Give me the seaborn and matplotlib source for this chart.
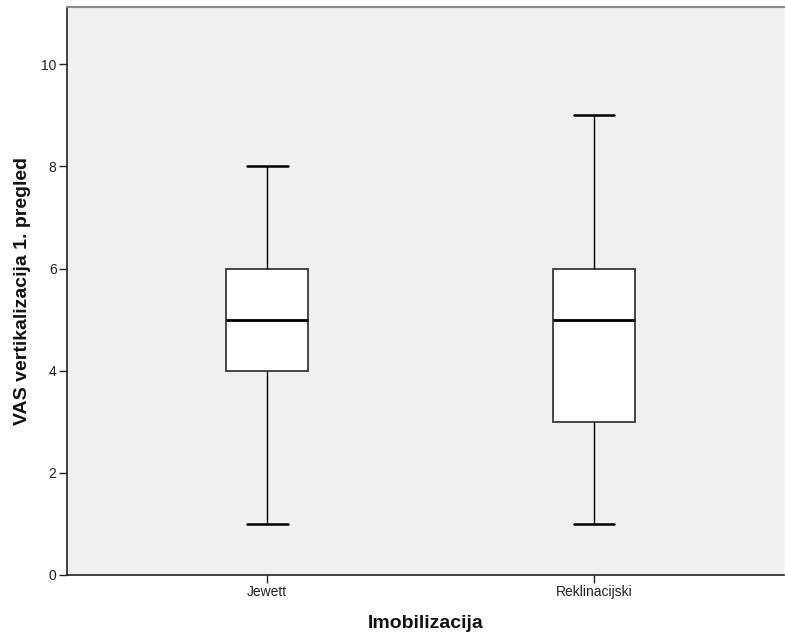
import numpy as np
import pandas as pd
import matplotlib
matplotlib.use("Agg")
import matplotlib.pyplot as plt
import seaborn as sns

# Five-number summaries (min, Q1, median, Q3, max)
categories = ["Jewett", "Reklinacijski"]
jewett_values = [1, 4, 5, 6, 8]
reklinacijski_values = [1, 3, 5, 6, 9]
y_ticks = [0, 2, 4, 6, 8, 10]

df = pd.DataFrame({
    "Imobilizacija": [categories[0]] * len(jewett_values) + [categories[1]] * len(reklinacijski_values),
    "VAS": jewett_values + reklinacijski_values,
})

sns.set_style("white")
plt.rcParams["font.family"] = ["Liberation Sans", "DejaVu Sans"]

fig = plt.figure(figsize=(7.85, 6.37), dpi=100)
ax = fig.add_axes([67 / 785, 62 / 637, 717 / 785, 568 / 637])
ax.set_facecolor("#F0F0F0")

sns.boxplot(
    data=df, x="Imobilizacija", y="VAS", order=categories, ax=ax,
    width=0.25, whis=1.5, color="white", fill=True,
    linecolor="black", linewidth=1.0,
    boxprops=dict(facecolor="white", edgecolor="#3a3a3a", linewidth=1.3),
    medianprops=dict(color="black", linewidth=2.0),
    whiskerprops=dict(color="black", linewidth=1.0),
    capprops=dict(color="black", linewidth=1.8),
)

ax.set_xlim(-0.612, 1.581)
ax.set_ylim(0, 11.12)
ax.set_yticks(y_ticks)
ax.set_yticklabels([str(t) for t in y_ticks])

for s in ["left", "bottom"]:
    ax.spines[s].set_color("#222222")
    ax.spines[s].set_linewidth(1.2)
ax.spines["top"].set_color("#888888")
ax.spines["top"].set_linewidth(1.5)
ax.spines["right"].set_color("#F8F8F8")
ax.spines["right"].set_linewidth(1.0)

ax.tick_params(axis="both", which="major", direction="out", length=6, width=1,
               color="#222222", labelsize=10, labelcolor="#222222", pad=1.5,
               left=True, bottom=True)

ax.set_xlabel("Imobilizacija", fontsize=14, fontweight="bold", color="#111111")
ax.set_ylabel("VAS vertikalizacija 1. pregled", fontsize=14, fontweight="bold", color="#111111")
ax.xaxis.set_label_coords(0.5, -0.071)
ax.yaxis.set_label_coords(-0.050, 0.5)

fig.savefig("out.png", dpi=100, facecolor="white")
